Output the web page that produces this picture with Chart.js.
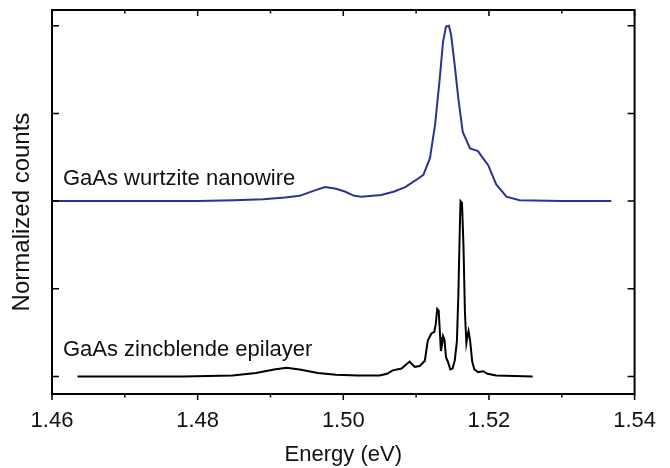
<!DOCTYPE html>
<html>
<head>
<meta charset="utf-8">
<script src="https://cdn.jsdelivr.net/npm/chart.js@4/dist/chart.umd.min.js"></script>
<style>
    body { margin: 0; background: #fff; }
    #wrap { width: 670px; height: 468px; }
</style>
</head>
<body>
<div id="wrap"><canvas id="chart"></canvas></div>
<script>
// Wurtzite nanowire spectrum (shifted up by 2 units in the plot)
const wzEnergy = [1.4600, 1.4700, 1.4800, 1.4850, 1.4890, 1.4920, 1.4940, 1.4960, 1.4975, 1.4990,
    1.5002, 1.5015, 1.5025, 1.5040, 1.5052, 1.5070, 1.5085, 1.5098, 1.5110, 1.5119,
    1.5126, 1.5132, 1.5137, 1.5141, 1.5145, 1.5148, 1.5153, 1.5158, 1.5164, 1.5174,
    1.5185, 1.5190, 1.5199, 1.5210, 1.5224, 1.5242, 1.5300, 1.5368];
const wzCounts = [2.00, 2.00, 2.00, 2.01, 2.02, 2.04, 2.06, 2.12, 2.16, 2.14,
    2.11, 2.06, 2.05, 2.06, 2.07, 2.11, 2.16, 2.23, 2.30, 2.49,
    2.87, 3.36, 3.82, 3.99, 4.00, 3.90, 3.55, 3.17, 2.79, 2.60,
    2.57, 2.51, 2.41, 2.19, 2.05, 2.01, 2.00, 2.00];

// Zincblende epilayer spectrum
const zbEnergy = [1.4635, 1.4700, 1.4780, 1.4848, 1.4880, 1.4905, 1.4922, 1.4940, 1.4965, 1.4990,
    1.5020, 1.5050, 1.5060, 1.5068, 1.5080, 1.5091, 1.5098, 1.5105, 1.5112, 1.5116,
    1.5121, 1.5125, 1.5127, 1.5129, 1.5131, 1.5133, 1.5134, 1.5136, 1.5137, 1.5139,
    1.5141, 1.5144, 1.5147, 1.5150, 1.5153, 1.5156, 1.5158, 1.5160, 1.5161, 1.5163,
    1.5165, 1.5167, 1.5169, 1.5171, 1.5172, 1.5174, 1.5177, 1.5180, 1.5185, 1.5192,
    1.5198, 1.5210, 1.5260];
const zbCounts = [0.00, 0.00, 0.00, 0.01, 0.04, 0.08, 0.10, 0.08, 0.04, 0.02,
    0.01, 0.01, 0.03, 0.07, 0.09, 0.17, 0.11, 0.12, 0.18, 0.41,
    0.49, 0.51, 0.60, 0.77, 0.75, 0.45, 0.29, 0.38, 0.46, 0.42,
    0.22, 0.16, 0.08, 0.09, 0.18, 0.40, 0.93, 1.69, 2.00, 1.98,
    1.50, 0.74, 0.38, 0.48, 0.52, 0.42, 0.17, 0.08, 0.05, 0.06,
    0.03, 0.01, 0.00];

// Axis ticks
const majorTicksX = [1.46, 1.48, 1.50, 1.52, 1.54];
const minorTicksX = [1.47, 1.49, 1.51, 1.53];
const ticksY = [0, 1, 2, 3, 4];

// Curve labels
const curveLabels = [
    { text: 'GaAs wurtzite nanowire', x: 1.4615, y: 2.186 },
    { text: 'GaAs zincblende epilayer', x: 1.4615, y: 0.228 }
];

const fontFamily = "'Liberation Sans', Arial, sans-serif";
const textColor = '#111';

function toPoints(xs, ys) {
    return xs.map((x, i) => ({ x: x, y: ys[i] }));
}

// Frame, inward/outward tick marks and the curve labels
const framePlugin = {
    id: 'frame',
    afterDatasetsDraw(chart) {
        const { ctx, chartArea: a, scales: { x, y } } = chart;
        ctx.save();
        ctx.strokeStyle = '#000';
        ctx.lineWidth = 2;
        ctx.strokeRect(a.left, a.top, a.right - a.left, a.bottom - a.top);

        ctx.lineWidth = 1.5;
        ctx.beginPath();
        majorTicksX.forEach(v => {
            const px = x.getPixelForValue(v);
            ctx.moveTo(px, a.bottom); ctx.lineTo(px, a.bottom + 6);
            ctx.moveTo(px, a.top); ctx.lineTo(px, a.top + 6);
        });
        minorTicksX.forEach(v => {
            const px = x.getPixelForValue(v);
            ctx.moveTo(px, a.bottom); ctx.lineTo(px, a.bottom + 3.5);
            ctx.moveTo(px, a.top); ctx.lineTo(px, a.top + 3.5);
        });
        ticksY.forEach(v => {
            const py = y.getPixelForValue(v);
            ctx.moveTo(a.left, py); ctx.lineTo(a.left + 7, py);
            ctx.moveTo(a.right, py); ctx.lineTo(a.right - 7, py);
        });
        ctx.stroke();

        ctx.fillStyle = textColor;
        ctx.font = '22px ' + fontFamily;
        ctx.textAlign = 'left';
        ctx.textBaseline = 'alphabetic';
        curveLabels.forEach(l => {
            ctx.fillText(l.text, x.getPixelForValue(l.x), y.getPixelForValue(l.y));
        });
        ctx.restore();
    }
};

new Chart(document.getElementById('chart'), {
    type: 'line',
    data: {
        datasets: [{
            label: 'GaAs wurtzite nanowire',
            data: toPoints(wzEnergy, wzCounts),
            borderColor: '#2a3394',
            borderWidth: 2,
            pointRadius: 0,
            tension: 0
        }, {
            label: 'GaAs zincblende epilayer',
            data: toPoints(zbEnergy, zbCounts),
            borderColor: '#000',
            borderWidth: 2,
            pointRadius: 0,
            tension: 0
        }]
    },
    options: {
        responsive: true,
        maintainAspectRatio: false,
        devicePixelRatio: 1,
        animation: false,
        layout: { padding: { top: 10, right: 35, left: 0, bottom: 0 } },
        plugins: {
            legend: { display: false },
            tooltip: { enabled: false }
        },
        scales: {
            x: {
                type: 'linear',
                position: 'bottom',
                min: 1.46,
                max: 1.54,
                grid: { display: false, drawTicks: false },
                border: { display: false },
                ticks: {
                    stepSize: 0.02,
                    padding: 14,
                    color: textColor,
                    font: { family: fontFamily, size: 22 },
                    callback: v => v.toFixed(2)
                },
                title: {
                    display: true,
                    text: 'Energy (eV)',
                    color: textColor,
                    font: { family: fontFamily, size: 22 },
                    padding: { top: 0, bottom: 0 }
                },
                afterFit: scale => { scale.height = 74; }
            },
            y: {
                min: -0.2,
                max: 4.18,
                grid: { display: false, drawTicks: false },
                border: { display: false },
                ticks: { display: false },
                title: {
                    display: true,
                    text: 'Normalized counts   ',
                    color: textColor,
                    font: { family: fontFamily, size: 24 },
                    padding: { top: 8, bottom: 0 }
                },
                afterFit: scale => { scale.width = 52; }
            }
        }
    },
    plugins: [framePlugin]
});
</script>
</body>
</html>
